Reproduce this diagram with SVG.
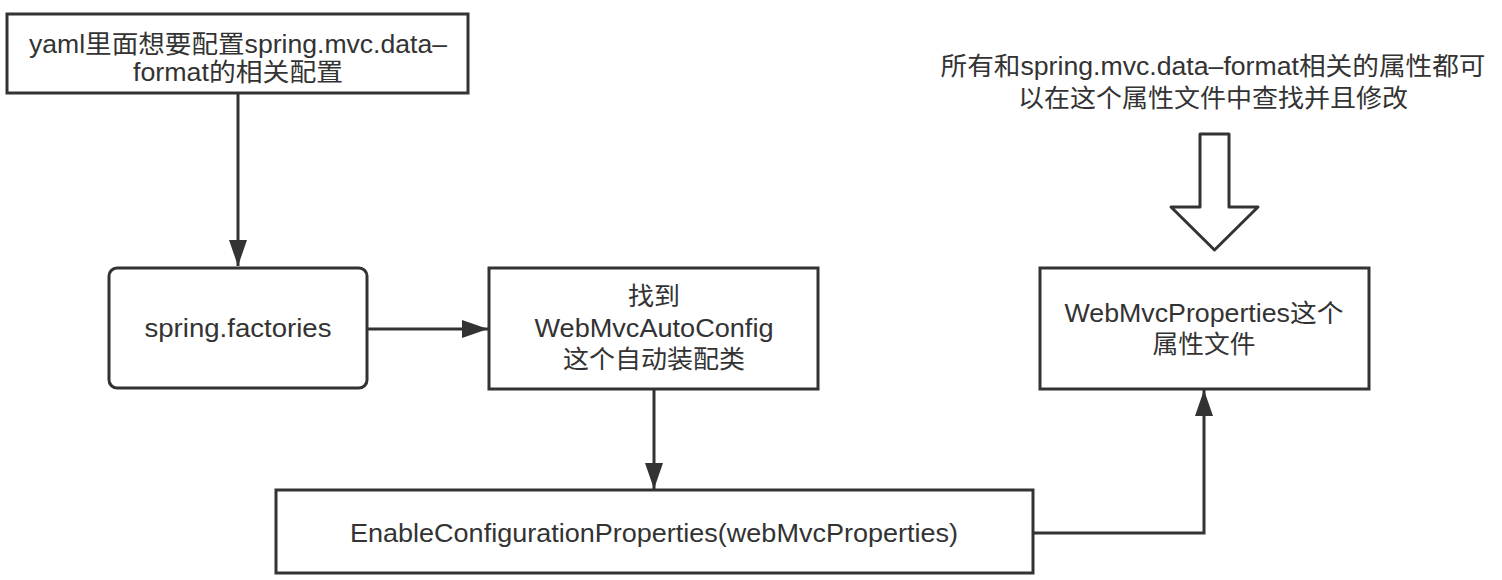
<svg xmlns="http://www.w3.org/2000/svg" width="1502" height="580" viewBox="0 0 1502 580">
<defs>
<style>
.box{fill:#fff;stroke:#333;stroke-width:3}
.t{font-family:"Liberation Sans","Noto Sans CJK SC",sans-serif;font-size:25px;fill:#333;text-anchor:middle}
.c{fill:none;stroke:#333;stroke-width:3}
</style>
<marker id="ah" viewBox="0 0 26 18" refX="26" refY="9" markerWidth="26" markerHeight="18" markerUnits="userSpaceOnUse" orient="auto">
<path d="M0,0 L26,9 L0,18 Z" fill="#333"/>
</marker>
</defs>
<rect width="1502" height="580" fill="#fff"/>
<g id="connectors">
<path class="c" d="M238,94 V266" marker-end="url(#ah)"/>
<path class="c" d="M367,329 H488" marker-end="url(#ah)"/>
<path class="c" d="M654,390 V489" marker-end="url(#ah)"/>
<path class="c" d="M1033,533 H1204 V390" marker-end="url(#ah)"/>
</g>
<g id="n1">
<rect class="box" x="7" y="14" width="461" height="79"/>
<text class="t" x="238" y="53" textLength="418" lengthAdjust="spacingAndGlyphs">yaml里面想要配置spring.mvc.data–</text>
<text class="t" x="238" y="81" textLength="210" lengthAdjust="spacingAndGlyphs">format的相关配置</text>
</g>
<g id="n2">
<rect class="box" x="109" y="268" width="258" height="120" rx="8" ry="8"/>
<text class="t" x="238" y="337" textLength="187" lengthAdjust="spacingAndGlyphs">spring.factories</text>
</g>
<g id="n3">
<rect class="box" x="489" y="268" width="329" height="121"/>
<text class="t" x="654" y="305" textLength="52" lengthAdjust="spacingAndGlyphs">找到</text>
<text class="t" x="654" y="337" textLength="239" lengthAdjust="spacingAndGlyphs">WebMvcAutoConfig</text>
<text class="t" x="654" y="368" textLength="182" lengthAdjust="spacingAndGlyphs">这个自动装配类</text>
</g>
<g id="n4">
<rect class="box" x="276" y="490" width="757" height="83"/>
<text class="t" x="654" y="542" textLength="608" lengthAdjust="spacingAndGlyphs">EnableConfigurationProperties(webMvcProperties)</text>
</g>
<g id="n5">
<rect class="box" x="1040" y="268" width="329" height="121"/>
<text class="t" x="1204" y="322" textLength="279" lengthAdjust="spacingAndGlyphs">WebMvcProperties这个</text>
<text class="t" x="1204" y="353" textLength="103" lengthAdjust="spacingAndGlyphs">属性文件</text>
</g>
<g id="n6">
<text class="t" x="1213" y="75" textLength="545" lengthAdjust="spacingAndGlyphs">所有和spring.mvc.data–format相关的属性都可</text>
<text class="t" x="1213" y="107" textLength="390" lengthAdjust="spacingAndGlyphs">以在这个属性文件中查找并且修改</text>
</g>
<g id="n7">
<path d="M1200,134 H1229 V207 H1258 L1214.5,250 L1171,207 H1200 Z" fill="#fff" stroke="#333" stroke-width="3" stroke-linejoin="round"/>
</g>
</svg>
